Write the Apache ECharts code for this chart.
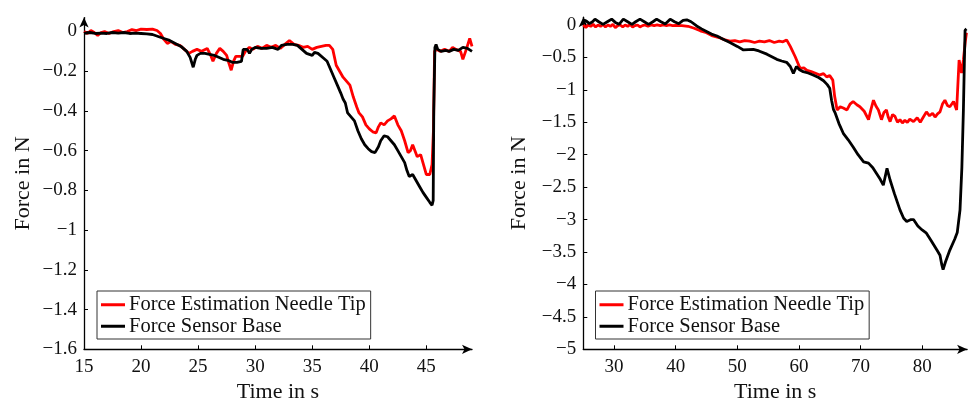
<!DOCTYPE html>
<html><head><meta charset="utf-8">
<script src="https://cdn.jsdelivr.net/npm/echarts@6/dist/echarts.min.js"></script>
<style>html,body{margin:0;padding:0;background:#fff}#c{width:973px;height:402px}</style>
</head><body><div id="c"></div>
<script>
// ---- data (left panel) ----
const leftTipT = [15.0,15.3,15.6,15.9,16.2,16.5,16.8,17.2,17.6,18.0,18.4,18.8,19.2,19.6,20.0,20.5,21.0,21.4,21.7,22.0,22.3,22.6,23.0,23.4,23.8,24.2,24.5,24.9,25.3,25.8,26.1,26.3,26.6,26.9,27.2,27.5,27.7,27.9,28.1,28.3,28.6,28.9,29.2,29.5,29.8,30.2,30.6,31.0,31.4,31.8,32.2,32.6,33.0,33.4,33.8,34.2,34.6,35.0,35.4,35.8,36.2,36.5,36.8,37.1,37.4,37.7,38.0,38.3,38.6,38.9,39.1,39.4,39.7,40.0,40.3,40.6,40.8,41.0,41.3,41.6,41.9,42.2,42.5,42.8,43.1,43.4,43.6,43.8,44.0,44.2,44.5,44.8,45.0,45.3,45.5,45.62,45.72,45.9,46.2,46.6,47.0,47.3,47.6,48.0,48.2,48.5,48.8,49.0];
const leftTipF = [0.0,-0.01,0.005,-0.005,-0.02,-0.005,0.0,-0.01,0.0,0.005,-0.005,0.0,0.01,0.005,0.012,0.01,0.012,0.005,-0.01,-0.04,-0.06,-0.05,-0.065,-0.07,-0.09,-0.11,-0.1,-0.09,-0.1,-0.085,-0.12,-0.15,-0.11,-0.085,-0.1,-0.12,-0.16,-0.195,-0.15,-0.125,-0.125,-0.125,-0.095,-0.08,-0.09,-0.075,-0.085,-0.07,-0.08,-0.07,-0.085,-0.065,-0.045,-0.065,-0.07,-0.08,-0.075,-0.09,-0.08,-0.075,-0.07,-0.07,-0.09,-0.17,-0.2,-0.23,-0.25,-0.27,-0.33,-0.38,-0.41,-0.43,-0.47,-0.49,-0.505,-0.51,-0.48,-0.46,-0.47,-0.45,-0.44,-0.425,-0.47,-0.5,-0.55,-0.61,-0.6,-0.57,-0.6,-0.63,-0.62,-0.68,-0.72,-0.72,-0.67,-0.5,-0.1,-0.09,-0.1,-0.09,-0.1,-0.08,-0.09,-0.1,-0.14,-0.09,-0.035,-0.075];
const leftBaseT = [15.0,15.5,16.0,16.5,17.0,17.5,18.0,18.5,19.0,19.5,20.0,20.5,21.0,21.5,22.0,22.5,23.0,23.5,24.0,24.3,24.57,24.75,24.9,25.2,25.6,26.0,26.4,26.8,27.2,27.6,28.0,28.4,28.8,28.95,29.1,29.3,29.5,29.7,30.0,30.5,31.0,31.5,32.0,32.3,32.8,33.3,33.7,34.0,34.5,35.0,35.2,35.5,36.0,36.3,36.6,36.9,37.2,37.5,37.7,37.9,38.1,38.4,38.7,39.0,39.3,39.6,39.9,40.2,40.5,40.8,41.0,41.3,41.6,41.9,42.2,42.5,42.8,43.1,43.3,43.5,43.8,44.1,44.4,44.7,45.0,45.3,45.5,45.6,45.65,45.75,45.85,46.0,46.3,46.7,47.0,47.4,47.8,48.2,48.6,49.0];
const leftBaseF = [-0.01,-0.005,-0.01,-0.008,-0.01,-0.005,-0.008,-0.005,-0.01,-0.008,-0.01,-0.012,-0.015,-0.025,-0.035,-0.045,-0.06,-0.075,-0.1,-0.13,-0.18,-0.14,-0.12,-0.11,-0.11,-0.115,-0.12,-0.13,-0.14,-0.145,-0.155,-0.155,-0.15,-0.09,-0.08,-0.09,-0.11,-0.09,-0.08,-0.085,-0.085,-0.08,-0.09,-0.07,-0.065,-0.065,-0.07,-0.085,-0.11,-0.12,-0.105,-0.11,-0.135,-0.15,-0.19,-0.23,-0.27,-0.31,-0.34,-0.36,-0.41,-0.43,-0.45,-0.5,-0.54,-0.57,-0.59,-0.605,-0.61,-0.58,-0.55,-0.525,-0.53,-0.55,-0.57,-0.6,-0.63,-0.66,-0.7,-0.73,-0.72,-0.75,-0.78,-0.81,-0.835,-0.86,-0.875,-0.85,-0.4,-0.08,-0.065,-0.09,-0.1,-0.095,-0.1,-0.09,-0.095,-0.08,-0.085,-0.1];
// ---- data (right panel) ----
const rightTipT = [25.0,25.4,25.8,26.2,26.6,27.0,27.4,27.8,28.2,28.6,29.0,29.4,29.8,30.2,30.6,31.0,31.4,31.8,32.2,32.6,33.0,33.4,33.8,34.2,34.6,35.0,35.5,36.0,36.5,37.0,37.5,38.0,38.5,39.0,39.5,40.0,41.0,42.0,43.0,44.0,45.0,46.0,47.2,48.0,48.8,49.6,50.4,51.2,52.0,52.8,53.6,54.4,55.2,56.0,56.8,57.4,58.0,58.6,59.4,60.2,60.8,61.3,62.0,62.6,63.4,64.0,64.5,65.0,65.5,65.8,66.2,66.7,67.2,67.8,68.3,68.8,69.4,69.9,70.6,71.3,71.7,72.1,72.5,72.9,73.4,73.8,74.2,74.5,74.8,75.2,75.6,76.0,76.4,76.8,77.2,77.6,78.0,78.6,79.2,79.7,80.2,80.7,81.2,81.7,82.1,82.5,82.9,83.3,83.7,84.1,84.5,85.1,85.6,85.9,86.0,86.4,86.7,87.0,87.2];
const rightTipF = [0.0,-0.04,0.0,-0.02,0.01,-0.03,0.0,-0.02,0.01,-0.03,0.0,-0.02,0.01,-0.04,-0.01,0.0,-0.03,0.0,-0.02,0.01,-0.03,-0.01,0.0,-0.03,-0.01,0.0,-0.02,0.0,-0.01,0.0,-0.01,0.0,-0.01,0.0,-0.01,-0.005,-0.01,-0.02,-0.05,-0.09,-0.12,-0.17,-0.2,-0.23,-0.25,-0.24,-0.26,-0.24,-0.25,-0.27,-0.25,-0.26,-0.24,-0.27,-0.25,-0.26,-0.23,-0.33,-0.49,-0.67,-0.66,-0.7,-0.72,-0.74,-0.77,-0.75,-0.8,-0.78,-0.85,-1.1,-1.31,-1.26,-1.28,-1.31,-1.22,-1.18,-1.23,-1.26,-1.33,-1.46,-1.3,-1.16,-1.25,-1.31,-1.46,-1.35,-1.31,-1.42,-1.49,-1.38,-1.41,-1.5,-1.46,-1.51,-1.47,-1.5,-1.45,-1.49,-1.43,-1.5,-1.42,-1.34,-1.4,-1.36,-1.42,-1.37,-1.34,-1.22,-1.16,-1.24,-1.26,-1.18,-1.31,-1.29,-0.54,-0.74,-0.54,-0.26,-0.12];
const rightBaseT = [25.0,25.5,26.0,26.5,26.9,27.5,28.2,28.9,29.6,30.2,30.8,31.5,32.2,32.9,33.5,34.2,34.9,35.6,36.3,36.9,37.6,38.3,39.1,39.8,40.5,41.2,41.8,42.5,43.4,44.2,45.0,45.8,46.7,47.7,48.8,50.0,51.0,51.8,52.6,53.5,54.8,55.6,56.4,57.2,58.0,58.6,59.1,59.6,60.1,60.7,61.5,62.3,63.2,64.0,64.6,65.0,65.3,65.6,65.9,66.5,67.2,68.0,68.8,69.6,70.5,71.3,72.0,72.6,73.2,73.7,74.0,74.3,74.8,75.5,76.4,77.0,77.5,78.2,78.6,79.3,80.0,80.7,81.5,82.4,82.9,83.2,83.4,83.8,84.5,85.3,85.7,86.15,86.45,86.7,86.85,86.97,87.2];
const rightBaseF = [0.08,0.06,0.02,0.05,0.09,0.05,0.01,0.05,0.09,0.04,0.01,0.09,0.05,0.01,0.05,0.09,0.05,0.01,0.05,0.09,0.05,0.015,0.09,0.05,0.02,0.07,0.08,0.05,-0.015,-0.06,-0.1,-0.14,-0.17,-0.22,-0.27,-0.33,-0.385,-0.38,-0.375,-0.4,-0.45,-0.49,-0.53,-0.555,-0.575,-0.64,-0.745,-0.64,-0.69,-0.72,-0.74,-0.77,-0.81,-0.86,-0.92,-0.975,-1.16,-1.3,-1.36,-1.52,-1.67,-1.77,-1.88,-2.0,-2.11,-2.13,-2.2,-2.29,-2.38,-2.47,-2.45,-2.21,-2.39,-2.6,-2.85,-2.98,-3.03,-3.0,-3.0,-3.1,-3.16,-3.21,-3.33,-3.47,-3.55,-3.7,-3.77,-3.65,-3.47,-3.3,-3.2,-2.85,-2.2,-1.31,-0.6,-0.08,-0.06];
// ---- ticks / labels ----
const leftXTicks = [15,20,25,30,35,40,45];
const leftYTicks = [-1.6,-1.4,-1.2,-1,-0.8,-0.6,-0.4,-0.2,0];
const rightXTicks = [30,40,50,60,70,80];
const rightYTicks = [-5,-4.5,-4,-3.5,-3,-2.5,-2,-1.5,-1,-0.5,0];
const seriesNames = ['Force Estimation Needle Tip','Force Sensor Base'];
const xTitle = 'Time in s';
const yTitle = 'Force in N';

const FONT = 'Liberation Serif';
const zip = (a,b) => a.map((v,i)=>[v,b[i]]);
const fmt = v => { const s = String(Math.round(Math.abs(v)*10)/10); return v < -1e-9 ? '\u2212' + s : s; };

function xAxis(idx, min, max, ticks, gap){
  return {type:'value', gridIndex:idx, min, max,
    name:xTitle, nameLocation:'middle', nameGap:gap,
    nameTextStyle:{fontFamily:FONT, fontSize:22, color:'#111'},
    axisLine:{show:true, onZero:false, lineStyle:{color:'#000', width:1.3}, symbol:['none','arrow'], symbolSize:[7,10]},
    axisTick:{show:true, inside:true, length:4, customValues:ticks, lineStyle:{color:'#000'}},
    axisLabel:{customValues:ticks, formatter:fmt, fontFamily:FONT, fontSize:19, color:'#111', margin:8},
    splitLine:{show:false}};
}
function yAxis(idx, min, max, ticks, gap){
  return {type:'value', gridIndex:idx, min, max,
    name:yTitle, nameLocation:'middle', nameGap:gap, nameRotate:90,
    nameTextStyle:{fontFamily:FONT, fontSize:22, color:'#111'},
    axisLine:{show:true, onZero:false, lineStyle:{color:'#000', width:1.3}, symbol:['none','arrow'], symbolSize:[7,10]},
    axisTick:{show:true, inside:true, length:4, customValues:ticks, lineStyle:{color:'#000'}},
    axisLabel:{customValues:ticks, formatter:fmt, fontFamily:FONT, fontSize:19, color:'#111', margin:7},
    splitLine:{show:false}};
}
function line(name, color, xi, data){
  return {name, type:'line', xAxisIndex:xi, yAxisIndex:xi, data, showSymbol:false, symbol:'none',
    lineStyle:{color, width:2.8}, itemStyle:{color}, animation:false, silent:true};
}
function legend(left){
  return {data:seriesNames, orient:'vertical', left, top:291, icon:'rect', itemWidth:24, itemHeight:3, itemGap:0,
    padding:[3,5,2,4], borderColor:'#333', borderWidth:1, backgroundColor:'#fff',
    textStyle:{fontFamily:FONT, fontSize:20.5, color:'#111', lineHeight:21.5, padding:[0,0,0,-1]}, selectedMode:false};
}

const chart = echarts.init(document.getElementById('c'), null, {renderer:'canvas'});
chart.setOption({
  animation:false,
  backgroundColor:'#fff',
  grid:[{left:84, top:17.6, width:388, height:331.7, containLabel:false, outerBoundsMode:'none'},
        {left:583.3, top:17.2, width:383.8, height:332.1, containLabel:false, outerBoundsMode:'none'}],
  xAxis:[xAxis(0, 15, 49, leftXTicks, 28), xAxis(1, 25, 87.3, rightXTicks, 28)],
  yAxis:[yAxis(0, -1.6, 0.07, leftYTicks, 50), yAxis(1, -5, 0.12, rightYTicks, 53)],
  legend:[legend(97), legend(595.5)],
  series:[
    line(seriesNames[0], '#ff0000', 0, zip(leftTipT, leftTipF)),
    line(seriesNames[1], '#000000', 0, zip(leftBaseT, leftBaseF)),
    line(seriesNames[0], '#ff0000', 1, zip(rightTipT, rightTipF)),
    line(seriesNames[1], '#000000', 1, zip(rightBaseT, rightBaseF))
  ]
});
</script></body></html>
